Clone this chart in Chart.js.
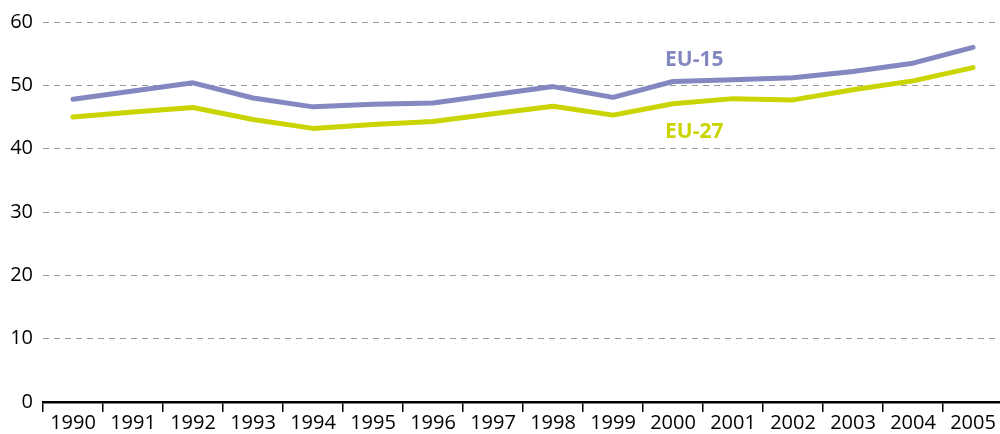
<!DOCTYPE html>
<html>
<head>
<meta charset="utf-8">
<script src="https://cdn.jsdelivr.net/npm/chart.js@4/dist/chart.umd.min.js"></script>
<style>
    html, body { margin: 0; padding: 0; background: #fff; overflow: hidden; }
    #wrap { width: 1003px; height: 434px; position: relative; }
</style>
</head>
<body>
<div id="wrap"><canvas id="emissionsChart"></canvas></div>
<script>
// --- Data ---
const years = ['1990', '1991', '1992', '1993', '1994', '1995', '1996', '1997',
    '1998', '1999', '2000', '2001', '2002', '2003', '2004', '2005'];
const eu15 = [47.8, 49.1, 50.4, 48.0, 46.6, 47.0, 47.2, 48.5, 49.8, 48.1, 50.6, 50.9, 51.2, 52.2, 53.5, 56.0];
const eu27 = [45.0, 45.8, 46.5, 44.6, 43.2, 43.8, 44.3, 45.5, 46.7, 45.3, 47.1, 47.9, 47.7, 49.3, 50.7, 52.8];
const yTicks = [0, 10, 20, 30, 40, 50, 60];

const colorEU15 = '#8388c0';
const colorEU27 = '#c9d400';
const fontFamily = '"Open Sans", sans-serif';

// series labels drawn inside the plot, next to the lines
const seriesLabels = [
    { text: 'EU-15', color: colorEU15, index: 10, value: 54.0 },
    { text: 'EU-27', color: colorEU27, index: 10, value: 42.7 }
];

const labelPlugin = {
    id: 'seriesLabels',
    afterDatasetsDraw(chart) {
        const ctx = chart.ctx;
        const x = chart.scales.x;
        const y = chart.scales.y;
        ctx.save();
        ctx.font = 'bold 21px ' + fontFamily;
        ctx.textAlign = 'left';
        ctx.textBaseline = 'middle';
        seriesLabels.forEach(l => {
            ctx.fillStyle = l.color;
            ctx.fillText(l.text, x.getPixelForValue(l.index) - 8, y.getPixelForValue(l.value));
        });
        ctx.restore();
    }
};

const ctx = document.getElementById('emissionsChart').getContext('2d');
new Chart(ctx, {
    type: 'line',
    data: {
        labels: years,
        datasets: [
            {
                label: 'EU-15',
                data: eu15,
                borderColor: colorEU15,
                borderWidth: 5,
                borderCapStyle: 'round',
                borderJoinStyle: 'round',
                pointRadius: 0,
                tension: 0,
                fill: false
            },
            {
                label: 'EU-27',
                data: eu27,
                borderColor: colorEU27,
                borderWidth: 5,
                borderCapStyle: 'round',
                borderJoinStyle: 'round',
                pointRadius: 0,
                tension: 0,
                fill: false
            }
        ]
    },
    options: {
        responsive: true,
        maintainAspectRatio: false,
        animation: false,
        layout: { padding: { top: 14, left: 0, right: 0, bottom: 0 } },
        plugins: {
            legend: { display: false },
            tooltip: { enabled: false }
        },
        scales: {
            x: {
                offset: true,
                grid: {
                    offset: true,
                    drawOnChartArea: false,
                    drawTicks: true,
                    tickLength: 10,
                    color: '#000',
                    lineWidth: 1.5
                },
                border: { display: true, color: '#000', width: 2.5 },
                ticks: {
                    color: '#000',
                    font: { family: fontFamily, size: 20 },
                    padding: -1,
                    maxRotation: 0,
                    autoSkip: false
                }
            },
            y: {
                min: 0,
                max: 60,
                afterBuildTicks(axis) {
                    axis.ticks = yTicks.map(v => ({ value: v }));
                },
                afterFit(axis) {
                    axis.width = 43;
                },
                grid: {
                    drawTicks: false,
                    color: '#9a9a9a',
                    lineWidth: 1
                },
                border: { display: false, dash: [6, 5] },
                ticks: {
                    color: '#000',
                    font: { family: fontFamily, size: 20 },
                    padding: 10
                }
            }
        }
    },
    plugins: [labelPlugin]
});
</script>
</body>
</html>
